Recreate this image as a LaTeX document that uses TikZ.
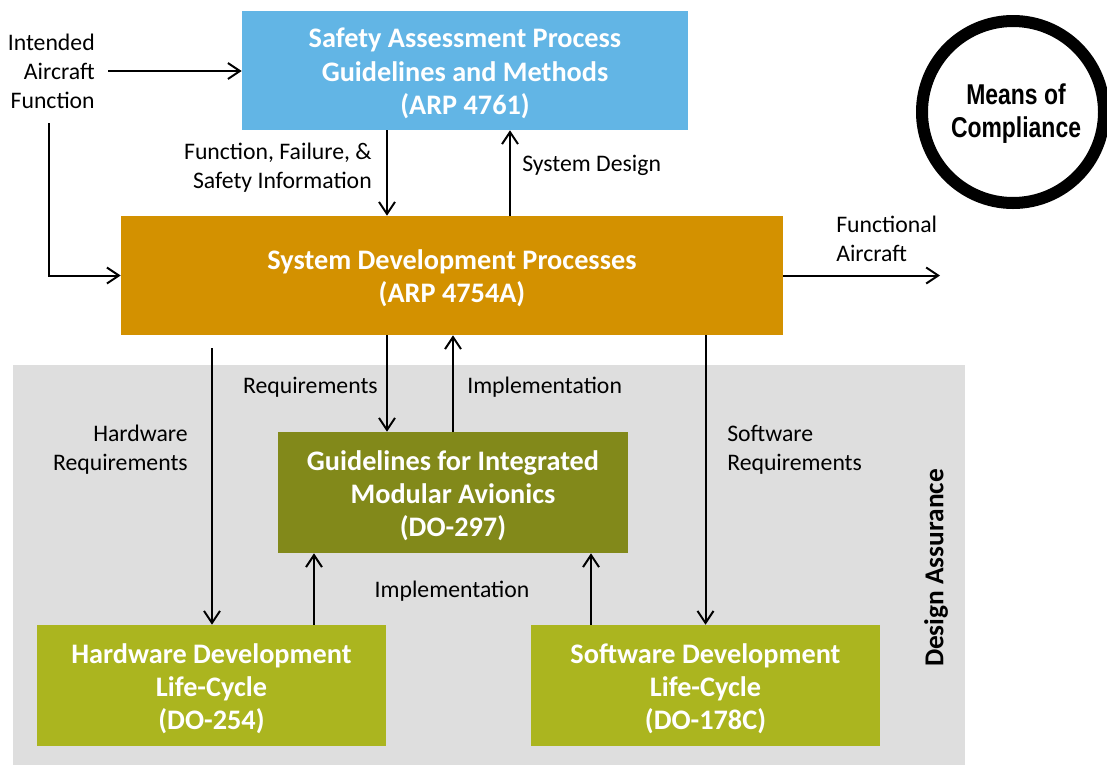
\documentclass[tikz,border=0pt]{standalone}
\usepackage{fontspec}
\setmainfont{Carlito}
\newfontfamily\narrowsans[FakeStretch=0.80]{Liberation Sans}
\usetikzlibrary{arrows.meta}

\definecolor{safetyblue}{RGB}{98,181,229}
\definecolor{sysorange}{RGB}{211,145,0}
\definecolor{imaolive}{RGB}{130,137,26}
\definecolor{lifegreen}{RGB}{171,181,31}
\definecolor{assuregray}{RGB}{222,222,222}

\begin{document}
\begin{tikzpicture}[x=0.75pt,y=-0.75pt,
	proc/.style={fill=#1,inner sep=0pt},
	boxtext/.style={text=white,align=center,inner sep=0pt,yshift=-2.25pt,
		font=\fontsize{21.2}{24.9}\selectfont\bfseries},
	lbl/.style={inner sep=0pt,font=\fontsize{17.8}{21.75}\selectfont},
	arr/.style={-{Straight Barb[length=9pt,width=12pt]},line width=1.5pt}]
	\useasboundingbox (0,0) rectangle (1107,765);
	\fill[assuregray] (13,365) rectangle (965,765);
	\node[rotate=90,inner sep=0pt,font=\fontsize{20.5}{24.75}\selectfont\bfseries] (da) at (936,568) {Design Assurance};
	% boxes
	\node[proc=safetyblue,minimum width=334.5pt,minimum height=89.25pt,
		label={[boxtext]center:{Safety Assessment Process\\Guidelines and Methods\\(ARP 4761)}}] (blue) at (465,70.5) {};
	\node[proc=sysorange,minimum width=496.5pt,minimum height=89.25pt,
		label={[boxtext]center:{System Development Processes\\(ARP 4754A)}}] (sys) at (452,275.5) {};
	\node[proc=imaolive,minimum width=262.5pt,minimum height=90.75pt,
		label={[boxtext]center:{Guidelines for Integrated\\Modular Avionics\\(DO-297)}}] (ima) at (453,492.5) {};
	\node[proc=lifegreen,minimum width=261.75pt,minimum height=90.75pt,
		label={[boxtext]center:{Hardware Development\\Life-Cycle\\(DO-254)}}] (hw) at (211.5,685.5) {};
	\node[proc=lifegreen,minimum width=261.75pt,minimum height=90.75pt,
		label={[boxtext]center:{Software Development\\Life-Cycle\\(DO-178C)}}] (sw) at (705.5,685.5) {};
	\draw[line width=9pt] (1013,112) circle (91);
	\node[align=center,inner sep=0pt,font=\narrowsans\fontsize{21.5}{24.75}\selectfont\bfseries] (moc) at (1016,114) {Means of\\Compliance};
	% labels
	\node[lbl,anchor=east,align=right] (iaf) at (95,71) {Intended\\Aircraft\\Function};
	\node[lbl,anchor=east,align=right] (ffs) at (372,168) {Function, Failure, \&\\Safety Information};
	\node[lbl,anchor=west] (sd) at (522,165) {System Design};
	\node[lbl,anchor=west,align=left] (fa) at (836,239) {Functional\\Aircraft};
	\node[lbl,anchor=east,align=right] (hwr) at (188,450) {Hardware\\Requirements};
	\node[lbl,anchor=east] (req) at (378,387) {Requirements};
	\node[lbl,anchor=west] (imp) at (467,387) {Implementation};
	\node[lbl] (imp2) at (452,591) {Implementation};
	\node[lbl,anchor=west,align=left] (swr) at (727,450) {Software\\Requirements};
	% connectors
	\coordinate (iafend) at (49,123);
	\coordinate (faend) at (940,275.5);
	\coordinate (hwtop) at (212,348);
	\coordinate (down1) at (387,0);
	\coordinate (up1) at (510,0);
	\coordinate (up2) at (314,0);
	\coordinate (up3) at (591,0);
	\draw[arr] ([xshift=10pt]iaf.east) -- (blue.west |- iaf.east);
	\draw[arr] (iafend) |- (sys.west);
	\draw[arr] (down1 |- blue.south) -- (down1 |- sys.north);
	\draw[arr] (up1 |- sys.north) -- (up1 |- blue.south);
	\draw[arr] (sys.east) -- (faend);
	\draw[arr] (hwtop) -- (hwtop |- hw.north);
	\draw[arr] (down1 |- sys.south) -- (down1 |- ima.north);
	\draw[arr] (ima.north) -- (ima.north |- sys.south);
	\draw[arr] (up2 |- hw.north) -- (up2 |- ima.south);
	\draw[arr] (up3 |- sw.north) -- (up3 |- ima.south);
	\draw[arr] (sw.north |- sys.south) -- (sw.north);
\end{tikzpicture}
\end{document}
